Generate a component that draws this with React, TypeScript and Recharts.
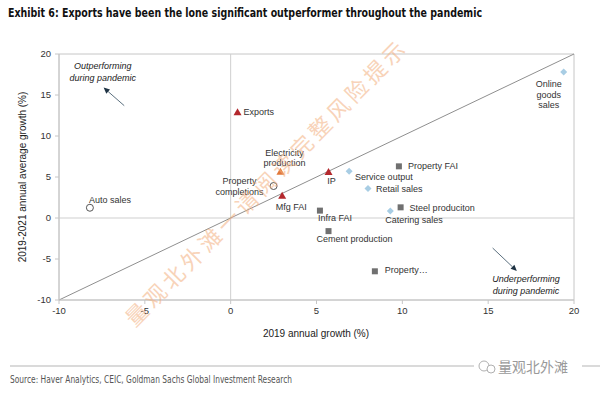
import { ScatterChart, Scatter, XAxis, YAxis, ReferenceLine, ReferenceArea, ReferenceDot } from "recharts";
import type { CSSProperties } from "react";

// 2019 growth (x) vs 2019-2021 average growth (y), grouped by marker style
const redNames = ["Exports", "IP", "Mfg FAI"];
const redX = [0.4, 5.7, 3.0];
const redY = [12.9, 5.6, 2.7];

const orangeNames = ["Electricity production"];
const orangeX = [2.9];
const orangeY = [5.65];

const circleNames = ["Property completions", "Auto sales"];
const circleX = [2.5, -8.2];
const circleY = [3.9, 1.25];

const squareNames = ["Property FAI", "Infra FAI", "Cement production", "Steel produciton", "Property…"];
const squareX = [9.8, 5.2, 5.7, 9.9, 8.4];
const squareY = [6.3, 0.9, -1.6, 1.3, -6.5];

const diamondNames = ["Service output", "Retail sales", "Catering sales", "Online goods sales"];
const diamondX = [6.9, 8.0, 9.3, 19.4];
const diamondY = [5.7, 3.6, 0.85, 17.8];

const ticks = [-10, -5, 0, 5, 10, 15, 20];

const build = (names: string[], xs: number[], ys: number[]) =>
  names.map((name, i) => ({ name, x: xs[i], y: ys[i] }));

// label placement around each marker: lines, anchor, offset of first line
const LABELS: Record<string, { lines: string[]; anchor: "start" | "middle" | "end"; dx: number; dy: number }> = {
  Exports: { lines: ["Exports"], anchor: "start", dx: 6, dy: 0 },
  IP: { lines: ["IP"], anchor: "middle", dx: 3, dy: 9 },
  "Mfg FAI": { lines: ["Mfg FAI"], anchor: "middle", dx: 9, dy: 11 },
  "Electricity production": { lines: ["Electricity", "production"], anchor: "middle", dx: 4, dy: -19 },
  "Property completions": { lines: ["Property", "completions"], anchor: "middle", dx: -34, dy: -5 },
  "Auto sales": { lines: ["Auto sales"], anchor: "start", dx: -1, dy: -8 },
  "Property FAI": { lines: ["Property FAI"], anchor: "start", dx: 9, dy: 0 },
  "Infra FAI": { lines: ["Infra FAI"], anchor: "start", dx: -2, dy: 7 },
  "Cement production": { lines: ["Cement production"], anchor: "start", dx: -12, dy: 8 },
  "Steel produciton": { lines: ["Steel produciton"], anchor: "start", dx: 9, dy: 1 },
  "Property…": { lines: ["Property…"], anchor: "start", dx: 10, dy: -1 },
  "Service output": { lines: ["Service output"], anchor: "start", dx: 6, dy: 6 },
  "Retail sales": { lines: ["Retail sales"], anchor: "start", dx: 8, dy: 0 },
  "Catering sales": { lines: ["Catering sales"], anchor: "start", dx: -5, dy: 9 },
  "Online goods sales": { lines: ["Online", "goods", "sales"], anchor: "middle", dx: -15, dy: 12 },
};

const FONT = '"Liberation Sans", Arial, sans-serif';
const NARROW = '"Liberation Sans Narrow", "DejaVu Sans Condensed", "Liberation Sans", sans-serif';

function PointLabel({ cx, cy, name }: { cx: number; cy: number; name: string }) {
  const l = LABELS[name];
  if (!l) return null;
  return (
    <text x={cx + l.dx} y={cy + l.dy} textAnchor={l.anchor} fontFamily={FONT} fontSize={9} fill="#333">
      {l.lines.map((line, i) => (
        <tspan key={i} x={cx + l.dx} dy={i === 0 ? "0.35em" : 10.5}>
          {line}
        </tspan>
      ))}
    </text>
  );
}

const makeShape = (kind: string, color: string) => (props: any) => {
  const { cx, cy, payload } = props;
  let mark = null;
  if (kind === "triangle") {
    mark = <polygon points={`${cx},${cy - 4} ${cx + 4},${cy + 3} ${cx - 4},${cy + 3}`} fill={color} />;
  } else if (kind === "circle") {
    mark = <circle cx={cx} cy={cy} r={3.5} fill="#fff" stroke={color} strokeWidth={1} />;
  } else if (kind === "square") {
    mark = <rect x={cx - 3} y={cy - 3} width={6} height={6} fill={color} />;
  } else {
    mark = <polygon points={`${cx},${cy - 3.5} ${cx + 3.5},${cy} ${cx},${cy + 3.5} ${cx - 3.5},${cy}`} fill={color} />;
  }
  return (
    <g>
      {mark}
      <PointLabel cx={cx} cy={cy} name={payload.name} />
    </g>
  );
};

const arrowShape = (props: any) => {
  const { x1, y1, x2, y2 } = props;
  const a = Math.atan2(y2 - y1, x2 - x1);
  const len = 6;
  const w = 2.8;
  const bx = x2 - len * Math.cos(a);
  const by = y2 - len * Math.sin(a);
  const px = -Math.sin(a) * w;
  const py = Math.cos(a) * w;
  return (
    <g>
      <line x1={x1} y1={y1} x2={bx} y2={by} stroke="#4a6070" strokeWidth={0.9} />
      <polygon points={`${x2},${y2} ${bx + px},${by + py} ${bx - px},${by - py}`} fill="#1f3344" />
    </g>
  );
};

const noteShape = (lines: string[]) => (props: any) => {
  const { cx, cy } = props;
  return (
    <text x={cx} y={cy} textAnchor="middle" fontFamily={FONT} fontSize={9} fontStyle="italic" fill="#222">
      {lines.map((line, i) => (
        <tspan key={i} x={cx} dy={i === 0 ? "0.35em" : 11.5}>
          {line}
        </tspan>
      ))}
    </text>
  );
};

export default function App() {
  const tick = { fontFamily: FONT, fontSize: 9.5, fill: "#333" };
  return (
    <div style={wrap}>
      <ScatterChart width={600} height={395} margin={{ top: 54, right: 26, bottom: 65, left: 0 }}>
        <XAxis
          type="number"
          dataKey="x"
          domain={[-10, 20]}
          ticks={ticks}
          height={30}
          tick={tick}
          tickSize={4}
          tickMargin={3}
          axisLine={{ stroke: "#c6c6c6" }}
          tickLine={{ stroke: "#c6c6c6" }}
        />
        <YAxis
          type="number"
          dataKey="y"
          domain={[-10, 20]}
          ticks={ticks}
          width={59}
          tick={tick}
          tickSize={4}
          tickMargin={4}
          axisLine={{ stroke: "#c6c6c6" }}
          tickLine={{ stroke: "#c6c6c6" }}
        />
        <ReferenceArea x1={-10} x2={20} y1={-10} y2={20} fill="none" stroke="#c6c6c6" fillOpacity={0} />
        <ReferenceLine x={0} stroke="#cfcfcf" />
        <ReferenceLine y={0} stroke="#cfcfcf" />
        <ReferenceLine segment={[{ x: -10, y: -10 }, { x: 20, y: 20 }]} stroke="#8f8f8f" />
        <ReferenceLine segment={[{ x: -6.2, y: 13.7 }, { x: -7.4, y: 15.9 }]} shape={arrowShape} />
        <ReferenceLine segment={[{ x: 15.26, y: -3.66 }, { x: 16.67, y: -6.46 }]} shape={arrowShape} />
        <ReferenceDot x={-7.45} y={18.5} r={0} shape={noteShape(["Outperforming", "during pandemic"])} />
        <ReferenceDot x={17.2} y={-7.45} r={0} shape={noteShape(["Underperforming", "during pandemic"])} />
        <Scatter data={build(squareNames, squareX, squareY)} shape={makeShape("square", "#707070")} isAnimationActive={false} />
        <Scatter data={build(diamondNames, diamondX, diamondY)} shape={makeShape("diamond", "#a8cde4")} isAnimationActive={false} />
        <Scatter data={build(circleNames, circleX, circleY)} shape={makeShape("circle", "#555555")} isAnimationActive={false} />
        <Scatter data={build(orangeNames, orangeX, orangeY)} shape={makeShape("triangle", "#e2783a")} isAnimationActive={false} />
        <Scatter data={build(redNames, redX, redY)} shape={makeShape("triangle", "#b3282d")} isAnimationActive={false} />
      </ScatterChart>
      <svg width={600} height={395} style={overlay}>
        <text
          x={8}
          y={12}
          dominantBaseline="central"
          fontFamily={NARROW}
          fontWeight={700}
          fontSize={12.5}
          fill="#111"
          textLength={474}
          lengthAdjust="spacingAndGlyphs"
        >
          Exhibit 6: Exports have been the lone significant outperformer throughout the pandemic
        </text>
        <text x={316} y={333} textAnchor="middle" dominantBaseline="central" fontFamily={FONT} fontSize={10} fill="#222">
          2019 annual growth (%)
        </text>
        <text
          x={22}
          y={177}
          textAnchor="middle"
          dominantBaseline="central"
          transform="rotate(-90 22 177)"
          fontFamily={FONT}
          fontSize={10}
          fill="#222"
        >
          2019-2021 annual average growth (%)
        </text>
        <text
          x={135}
          y={328}
          transform="rotate(-45.5 135 328)"
          fontFamily='"Noto Sans CJK SC", sans-serif'
          fontSize={22}
          textLength={388}
          fill="#f3b080"
          opacity={0.55}
        >
          量观北外滩一请阅读完整风险提示
        </text>
        <line x1={10} y1={366} x2={600} y2={366} stroke="#b5b5b5" strokeWidth={1} />
        <rect x={474} y={356} width={108} height={20} fill="#fff" />
        <circle cx={484} cy={366} r={5} fill="none" stroke="#b0b0b0" />
        <circle cx={491} cy={369} r={4} fill="#fff" stroke="#b0b0b0" />
        <text x={498} y={366} dominantBaseline="central" fontFamily='"Noto Sans CJK SC", sans-serif' fontSize={14} fill="#9a9a9a">
          量观北外滩
        </text>
        <text
          x={10}
          y={379}
          dominantBaseline="central"
          fontFamily={NARROW}
          fontSize={10}
          fill="#555"
          textLength={282}
          lengthAdjust="spacingAndGlyphs"
        >
          Source: Haver Analytics, CEIC, Goldman Sachs Global Investment Research
        </text>
      </svg>
    </div>
  );
}

const wrap: CSSProperties = {
  position: "absolute",
  left: 0,
  top: 0,
  width: 600,
  height: 395,
  background: "#fff",
  overflow: "hidden",
};

const overlay: CSSProperties = {
  position: "absolute",
  left: 0,
  top: 0,
  pointerEvents: "none",
};
